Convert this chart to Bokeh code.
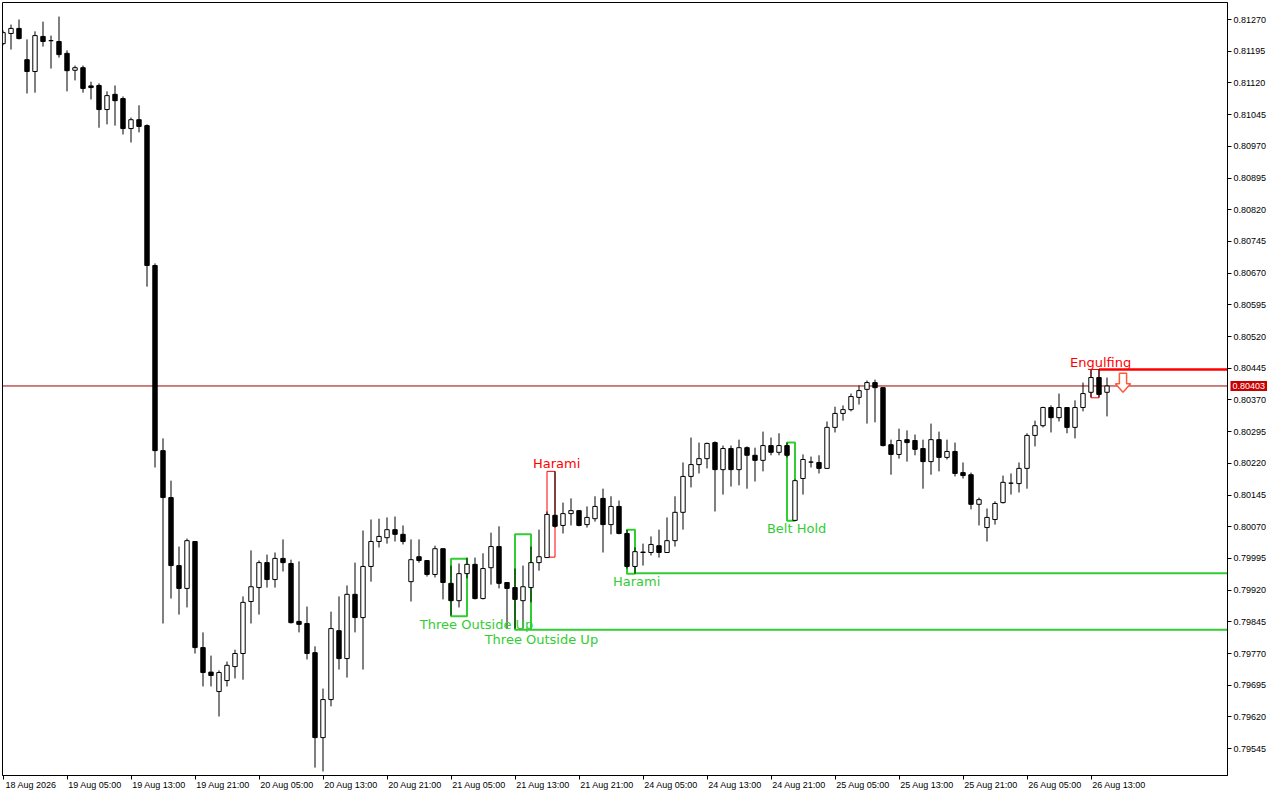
import numpy as np
from bokeh.core.properties import value
from bokeh.embed import file_html
from bokeh.models import ColumnDataSource, FixedTicker, Label, PrintfTickFormatter, Range1d
from bokeh.plotting import figure
from bokeh.resources import INLINE

# H1 candles, 18 Aug 21:00 -> 26 Aug 15:00 (weekend bars skipped, x = bar index)
opens = [0.81213, 0.81237, 0.81249, 0.81175, 0.81147, 0.81230, 0.81220, 0.81218, 0.81190, 0.81150,
         0.81156, 0.81113, 0.81114, 0.81057, 0.81093, 0.81083, 0.81012, 0.81033, 0.81019, 0.80688,
         0.80250, 0.80139, 0.79978, 0.79924, 0.80035, 0.79784, 0.79726, 0.79680, 0.79706, 0.79739,
         0.79770, 0.79893, 0.79926, 0.79985, 0.79945, 0.79995, 0.79983, 0.79846, 0.79841, 0.79772,
         0.79571, 0.79661, 0.79824, 0.79758, 0.79910, 0.79855, 0.79976, 0.80035, 0.80044, 0.80063,
         0.80052, 0.79940, 0.79999, 0.79990, 0.79957, 0.80018, 0.79936, 0.79895, 0.79959, 0.79981,
         0.79900, 0.79973, 0.80023, 0.79938, 0.79926, 0.79895, 0.79926, 0.79985, 0.79997, 0.80097,
         0.80073, 0.80101, 0.80108, 0.80075, 0.80089, 0.80137, 0.80075, 0.80118, 0.80054, 0.79976,
         0.80010, 0.80009, 0.80025, 0.80009, 0.80037, 0.80104, 0.80189, 0.80217, 0.80231, 0.80269,
         0.80205, 0.80255, 0.80205, 0.80257, 0.80239, 0.80227, 0.80262, 0.80246, 0.80262, 0.80085,
         0.80184, 0.80223, 0.80222, 0.80208, 0.80305, 0.80338, 0.80347, 0.80376, 0.80395, 0.80411,
         0.80399, 0.80264, 0.80241, 0.80276, 0.80274, 0.80255, 0.80224, 0.80276, 0.80234, 0.80248,
         0.80198, 0.80193, 0.80123, 0.80068, 0.80087, 0.80127, 0.80173, 0.80172, 0.80208, 0.80286,
         0.80309, 0.80352, 0.80328, 0.80352, 0.80305, 0.80352, 0.80388, 0.80423, 0.80388]
highs = [0.81244, 0.81258, 0.81270, 0.81223, 0.81242, 0.81265, 0.81232, 0.81277, 0.81197, 0.81161,
         0.81161, 0.81123, 0.81119, 0.81100, 0.81114, 0.81088, 0.81038, 0.81067, 0.81022, 0.80693,
         0.80279, 0.80179, 0.80023, 0.80042, 0.80036, 0.79820, 0.79765, 0.79730, 0.79751, 0.79779,
         0.79905, 0.80014, 0.79990, 0.80004, 0.80009, 0.80040, 0.79992, 0.79988, 0.79881, 0.79787,
         0.79687, 0.79869, 0.79905, 0.79931, 0.79985, 0.80061, 0.80087, 0.80089, 0.80092, 0.80094,
         0.80073, 0.80040, 0.80040, 0.79990, 0.80025, 0.80019, 0.79978, 0.79983, 0.79997, 0.79997,
         0.80007, 0.80056, 0.80071, 0.79939, 0.79971, 0.79978, 0.80023, 0.80063, 0.80106, 0.80201,
         0.80127, 0.80137, 0.80109, 0.80118, 0.80142, 0.80160, 0.80142, 0.80132, 0.80063, 0.80021,
         0.80030, 0.80047, 0.80063, 0.80092, 0.80142, 0.80222, 0.80281, 0.80269, 0.80269, 0.80272,
         0.80262, 0.80262, 0.80276, 0.80260, 0.80257, 0.80295, 0.80281, 0.80291, 0.80269, 0.80182,
         0.80241, 0.80236, 0.80239, 0.80319, 0.80354, 0.80357, 0.80385, 0.80404, 0.80416, 0.80418,
         0.80400, 0.80276, 0.80302, 0.80298, 0.80288, 0.80276, 0.80314, 0.80295, 0.80276, 0.80269,
         0.80222, 0.80198, 0.80139, 0.80113, 0.80130, 0.80191, 0.80196, 0.80222, 0.80291, 0.80321,
         0.80354, 0.80357, 0.80385, 0.80353, 0.80369, 0.80411, 0.80442, 0.80442, 0.80423]
lows = [0.81209, 0.81199, 0.81223, 0.81095, 0.81097, 0.81206, 0.81154, 0.81180, 0.81100, 0.81126,
        0.81097, 0.81081, 0.81014, 0.81022, 0.81019, 0.80998, 0.80979, 0.81003, 0.80638, 0.80210,
        0.79841, 0.79900, 0.79862, 0.79879, 0.79770, 0.79692, 0.79692, 0.79621, 0.79692, 0.79711,
        0.79708, 0.79841, 0.79862, 0.79926, 0.79926, 0.79964, 0.79841, 0.79820, 0.79756, 0.79500,
        0.79491, 0.79645, 0.79732, 0.79713, 0.79820, 0.79732, 0.79940, 0.80021, 0.80030, 0.80035,
        0.80028, 0.79893, 0.79985, 0.79952, 0.79950, 0.79898, 0.79860, 0.79879, 0.79948, 0.79898,
        0.79898, 0.79933, 0.79924, 0.79829, 0.79829, 0.79829, 0.79891, 0.79966, 0.79996, 0.80068,
        0.80054, 0.80073, 0.80071, 0.80068, 0.80082, 0.80009, 0.80052, 0.80052, 0.79971, 0.79959,
        0.79978, 0.80002, 0.79997, 0.80008, 0.80023, 0.80063, 0.80163, 0.80196, 0.80208, 0.80106,
        0.80146, 0.80165, 0.80168, 0.80160, 0.80177, 0.80201, 0.80239, 0.80239, 0.80234, 0.80084,
        0.80146, 0.80210, 0.80196, 0.80207, 0.80293, 0.80321, 0.80343, 0.80359, 0.80314, 0.80317,
        0.80260, 0.80193, 0.80231, 0.80224, 0.80239, 0.80160, 0.80193, 0.80201, 0.80229, 0.80189,
        0.80184, 0.80111, 0.80073, 0.80035, 0.80075, 0.80125, 0.80146, 0.80151, 0.80160, 0.80260,
        0.80305, 0.80293, 0.80319, 0.80291, 0.80279, 0.80343, 0.80376, 0.80376, 0.80331]
closes = [0.81239, 0.81249, 0.81225, 0.81147, 0.81232, 0.81218, 0.81220, 0.81187, 0.81149, 0.81156,
          0.81107, 0.81109, 0.81057, 0.81090, 0.81078, 0.81012, 0.81033, 0.81017, 0.80688, 0.80250,
          0.80139, 0.79978, 0.79924, 0.80037, 0.79784, 0.79725, 0.79718, 0.79725, 0.79742, 0.79770,
          0.79891, 0.79928, 0.79985, 0.79945, 0.79995, 0.79985, 0.79843, 0.79839, 0.79770, 0.79571,
          0.79661, 0.79829, 0.79758, 0.79910, 0.79855, 0.79976, 0.80035, 0.80047, 0.80063, 0.80052,
          0.80035, 0.79992, 0.79990, 0.79957, 0.80018, 0.79938, 0.79895, 0.79959, 0.79981, 0.79900,
          0.79971, 0.80023, 0.79936, 0.79924, 0.79898, 0.79928, 0.79985, 0.79999, 0.80099, 0.80071,
          0.80101, 0.80108, 0.80073, 0.80092, 0.80118, 0.80075, 0.80118, 0.80054, 0.79976, 0.80011,
          0.80009, 0.80028, 0.80009, 0.80037, 0.80104, 0.80189, 0.80217, 0.80231, 0.80267, 0.80205,
          0.80255, 0.80205, 0.80257, 0.80239, 0.80227, 0.80262, 0.80246, 0.80262, 0.80239, 0.80179,
          0.80229, 0.80223, 0.80208, 0.80305, 0.80338, 0.80347, 0.80378, 0.80392, 0.80411, 0.80399,
          0.80262, 0.80241, 0.80274, 0.80269, 0.80253, 0.80224, 0.80276, 0.80234, 0.80248, 0.80196,
          0.80191, 0.80123, 0.80134, 0.80092, 0.80125, 0.80175, 0.80173, 0.80208, 0.80286, 0.80309,
          0.80352, 0.80328, 0.80352, 0.80305, 0.80352, 0.80385, 0.80423, 0.80383, 0.80403]

time_ticks = [0, 8, 16, 24, 32, 40, 48, 56, 64, 72, 80, 88, 96, 104, 112, 120, 128, 136]
time_labels = ["18 Aug 2026", "19 Aug 05:00", "19 Aug 13:00", "19 Aug 21:00", "20 Aug 05:00",
               "20 Aug 13:00", "20 Aug 21:00", "21 Aug 05:00", "21 Aug 13:00", "21 Aug 21:00",
               "24 Aug 05:00", "24 Aug 13:00", "24 Aug 21:00", "25 Aug 05:00", "25 Aug 13:00",
               "25 Aug 21:00", "26 Aug 05:00", "26 Aug 13:00"]
price_ticks = [0.79545, 0.79620, 0.79695, 0.79770, 0.79845, 0.79920, 0.79995, 0.80070,
               0.80145, 0.80220, 0.80295, 0.80370, 0.80445, 0.80520, 0.80595, 0.80670,
               0.80745, 0.80820, 0.80895, 0.80970, 0.81045, 0.81120, 0.81195, 0.81270]

# candlestick patterns found by the indicator
pattern_names = ["Three Outside Up", "Three Outside Up", "Harami", "Harami", "Belt Hold", "Engulfing"]
pattern_first = [56, 64, 68, 78, 98, 136]
pattern_last = [58, 66, 69, 79, 99, 137]
pattern_top = [0.79994, 0.80052, 0.80201, 0.80063, 0.80269, 0.80442]
pattern_bottom = [0.79858, 0.79826, 0.79998, 0.79959, 0.80084, 0.80375]
pattern_bullish = [True, True, False, True, True, False]
label_bar = [59.2, 67.3, 69.2, 79.2, 99.2, 137.2]
label_price = [0.79839, 0.79803, 0.80220, 0.79940, 0.80066, 0.80458]

# support / resistance levels drawn from the pattern edges
level_start = [66, 79, 137]
level_price = [0.79826, 0.79960, 0.80442]
level_bullish = [True, True, False]

# sell signal arrow after the engulfing
arrow_bar = 140
arrow_top = 0.80433
arrow_tip = 0.80388

GREEN = "#32CD32"
RED = "#FF0000"
AXIS_FONT = "Liberation Sans"
PX_PER_BAR = 8
PX_PER_PRICE = 42265
FRAME_W, FRAME_H = 1225, 773
Y_TOP = 0.813103
Y_BOTTOM = Y_TOP - FRAME_H / PX_PER_PRICE
X_LEFT = -0.0625
X_RIGHT = X_LEFT + FRAME_W / PX_PER_BAR
LABEL_SHIFT = 3.5  # date labels sit to the right of their tick


def main():
    p = figure(frame_width=FRAME_W, frame_height=FRAME_H,
               x_range=Range1d(X_LEFT, X_RIGHT), y_range=Range1d(Y_BOTTOM, Y_TOP),
               y_axis_location="right", toolbar_location=None, output_backend="svg",
               min_border_left=2, min_border_top=2, min_border_right=45, min_border_bottom=25,
               background_fill_color="white", border_fill_color="white",
               outline_line_color="black", outline_line_width=1)
    p.grid.visible = False

    # right price axis
    yax = p.yaxis[0]
    yax.ticker = FixedTicker(ticks=price_ticks)
    yax.formatter = PrintfTickFormatter(format="%.5f")
    yax.major_tick_out = 4
    yax.major_tick_in = 0
    yax.minor_tick_out = 0
    yax.minor_tick_in = 0
    yax.major_label_standoff = 2
    yax.major_label_text_font = AXIS_FONT
    yax.major_label_text_font_size = "9px"
    yax.major_label_text_color = "black"
    yax.axis_line_color = "black"
    yax.major_tick_line_color = "black"

    # bottom time axis: tick marks are the minor ticks, labels hang to the right of them
    label_pos = [t + LABEL_SHIFT for t in time_ticks]
    xax = p.xaxis[0]
    xax.ticker = FixedTicker(ticks=label_pos, minor_ticks=time_ticks)
    xax.major_label_overrides = dict(zip(label_pos, time_labels))
    xax.major_tick_out = 4
    xax.major_tick_in = 0
    xax.major_tick_line_color = None
    xax.minor_tick_out = 4
    xax.minor_tick_in = 0
    xax.minor_tick_line_color = "black"
    xax.major_label_standoff = 0
    xax.major_label_text_font = AXIS_FONT
    xax.major_label_text_font_size = "9px"
    xax.major_label_text_color = "black"
    xax.axis_line_color = "black"

    # current price line + tag on the price scale
    # (the tag lives in the bottom side panel so it is not clipped to the frame)
    last = closes[-1]
    p.segment(x0=X_LEFT, y0=last, x1=X_RIGHT, y1=last, line_color="#A00000", line_width=1)
    tag = Label(x=X_RIGHT + 3 / PX_PER_BAR, y=last, text=f"{last:.5f}", text_font=AXIS_FONT,
                text_font_size="9px", text_color="white", text_align="left",
                text_baseline="middle", background_fill_color="#C80000", padding=2)
    p.add_layout(tag, "below")

    # pattern boxes (behind candles)
    box_src = ColumnDataSource(dict(
        left=pattern_first, right=pattern_last, top=pattern_top, bottom=pattern_bottom,
        color=[GREEN if b else RED for b in pattern_bullish],
        width=[2 if b else 1 for b in pattern_bullish]))
    p.quad(left="left", right="right", top="top", bottom="bottom", source=box_src,
           fill_color=None, line_color="color", line_width="width")

    lvl_src = ColumnDataSource(dict(
        x0=level_start, x1=[X_RIGHT] * len(level_start), y=level_price,
        color=[GREEN if b else RED for b in level_bullish],
        width=[2 if b else 2.5 for b in level_bullish]))
    p.segment(x0="x0", y0="y", x1="x1", y1="y", source=lvl_src,
              line_color="color", line_width="width")

    # candles
    o = np.array(opens)
    c = np.array(closes)
    up = c >= o
    src = ColumnDataSource(dict(
        x=np.arange(len(opens)), high=highs, low=lows,
        top=np.maximum(o, c), bottom=np.minimum(o, c),
        fill=np.where(up, "white", "black")))
    p.segment(x0="x", y0="high", x1="x", y1="low", source=src, line_color="black", line_width=1)
    p.vbar(x="x", width=0.55, top="top", bottom="bottom", source=src,
           fill_color="fill", line_color="black", line_width=1)

    # pattern names
    lab_src = ColumnDataSource(dict(
        x=label_bar, y=label_price, text=pattern_names,
        color=[GREEN if b else RED for b in pattern_bullish]))
    p.text(x="x", y="y", text="text", source=lab_src, text_color="color",
           text_font=value("DejaVu Sans"), text_font_size="13px",
           text_align="center", text_baseline="middle")

    # down arrow
    neck = arrow_top - 0.55 * (arrow_top - arrow_tip)
    p.patch(x=[arrow_bar - 0.45, arrow_bar + 0.45, arrow_bar + 0.45, arrow_bar + 0.95,
               arrow_bar, arrow_bar - 0.95, arrow_bar - 0.45],
            y=[arrow_top, arrow_top, neck, neck, arrow_tip, neck, neck],
            fill_color="white", line_color="#FF5A3A", line_width=1.5)

    open("out.html", "w").write(file_html(p, INLINE))


if __name__ == "__main__":
    main()
